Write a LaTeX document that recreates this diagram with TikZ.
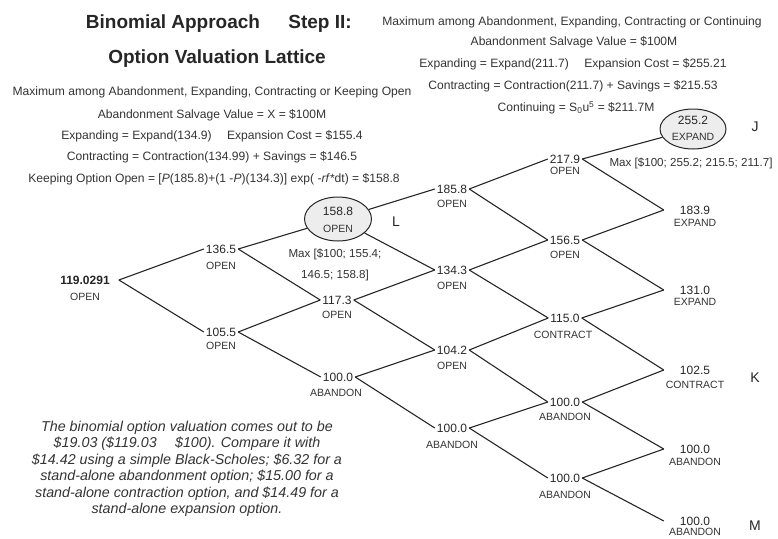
\documentclass[tikz,border=0pt]{standalone}
\usepackage{fontspec}
\setmainfont{Liberation Sans}
\usetikzlibrary{shapes.geometric}
\newcommand{\fsz}[2]{\fontsize{#1}{#2}\selectfont}

\begin{document}
\begin{tikzpicture}[x=1pt,y=-1pt,
  title/.style={font=\fsz{19}{22}\bfseries, text=black!85, inner sep=0pt},
  info/.style={font=\fsz{12.1}{14}, text=black!80, inner sep=0pt},
  note/.style={font=\fsz{14.3}{16.5}\itshape, text=black!80, inner sep=0pt, align=center},
  val/.style={font=\fsz{12}{14}, text=black!85, inner xsep=2pt, inner ysep=1pt},
  leaf/.style={val, inner xsep=16pt},
  state/.style={font=\fsz{10.5}{12}, text=black!80, inner sep=0pt},
  hub/.style={ellipse, draw=black!85, line width=1pt, fill=black!7,
    minimum width=67pt, minimum height=44pt, inner sep=0pt},
  tag/.style={font=\fsz{14}{16}, text=black!85, inner sep=0pt},
  maxrule/.style={font=\fsz{11.6}{14}, text=black!80, inner sep=0pt},
  edge/.style={draw=black!85, line width=1.1pt}]

\useasboundingbox (0,0) rectangle (778,538);

% headings
\node[title] (h1) at (173,24) {Binomial Approach};
\node[title] (h2) at (320,24) {Step II:};
\node[title] (h3) at (217,59) {Option Valuation Lattice};

% rule at node L
\node[info] (li1) at (212,92) {Maximum among Abandonment, Expanding, Contracting or Keeping Open};
\node[info] (li2) at (212,115) {Abandonment Salvage Value = X = \$100M};
\node[info] (li3) at (212,136) {Expanding = Expand(134.9) \quad Expansion Cost = \$155.4};
\node[info] (li4) at (212,157) {Contracting = Contraction(134.99) + Savings = \$146.5};
\node[info] (li5) at (214,179) {Keeping Option Open = [\textit{P}(185.8)+(1 -\textit{P})(134.3)] exp( -\textit{rf}*dt) = \$158.8};

% rule at node J
\node[info] (ri1) at (572,22) {Maximum among Abandonment, Expanding, Contracting or Continuing};
\node[info] (ri2) at (574,42) {Abandonment Salvage Value = \$100M};
\node[info] (ri3) at (573,64) {Expanding = Expand(211.7) \quad Expansion Cost = \$255.21};
\node[info] (ri4) at (573,86) {Contracting = Contraction(211.7) + Savings = \$215.53};
\node[info] (ri5) at (576,108) {Continuing = S\textsubscript{0}u\textsuperscript{5} = \$211.7M};

% column 0
\node[val, inner xsep=9pt, font=\fsz{12}{14}\bfseries] (n0) at (85,280) {119.0291};
\node[state] (n0s) at (85,297) {OPEN};

% column 1
\node[val] (a1) at (221,249) {136.5};
\node[state] (a1s) at (221,266) {OPEN};
\node[val] (b1) at (221,332) {105.5};
\node[state] (b1s) at (221,346) {OPEN};

% column 2
\node[hub] (L) at (338,219) {};
\node[val] (Lv) at (338,211) {158.8};
\node[state] (Ls) at (338,229) {OPEN};
\node[val] (b2) at (337,300) {117.3};
\node[state] (b2s) at (337,315) {OPEN};
\node[val] (c2) at (338,377) {100.0};
\node[state] (c2s) at (336,393) {ABANDON};

% column 3
\node[val] (a3) at (452,189) {185.8};
\node[state] (a3s) at (452,204) {OPEN};
\node[val] (b3) at (452,270) {134.3};
\node[state] (b3s) at (452,286) {OPEN};
\node[val] (c3) at (452,350) {104.2};
\node[state] (c3s) at (452,366) {OPEN};
\node[val] (d3) at (452,428) {100.0};
\node[state] (d3s) at (452,445) {ABANDON};

% column 4
\node[val] (a4) at (565,159) {217.9};
\node[state] (a4s) at (565,171) {OPEN};
\node[val] (b4) at (565,240) {156.5};
\node[state] (b4s) at (565,255) {OPEN};
\node[val] (c4) at (565,318) {115.0};
\node[state] (c4s) at (563,335) {CONTRACT};
\node[val] (d4) at (565,402) {100.0};
\node[state] (d4s) at (565,417) {ABANDON};
\node[val] (e4) at (565,478) {100.0};
\node[state] (e4s) at (565,495) {ABANDON};

% column 5
\node[hub, minimum width=66pt, minimum height=40pt] (J) at (693,129) {};
\node[val] (Jv) at (693,120) {255.2};
\node[state] (Js) at (693,137) {EXPAND};
\node[leaf] (b5) at (695,210) {183.9};
\node[state] (b5s) at (695,223) {EXPAND};
\node[leaf] (c5) at (695,290) {131.0};
\node[state] (c5s) at (695,302) {EXPAND};
\node[leaf] (d5) at (695,370) {102.5};
\node[state] (d5s) at (695,385) {CONTRACT};
\node[leaf] (e5) at (695,449) {100.0};
\node[state] (e5s) at (695,462) {ABANDON};
\node[leaf] (f5) at (695,521) {100.0};
\node[state] (f5s) at (695,532) {ABANDON};

% node letters
\node[tag] (tL) at (396,222) {L};
\node[tag] (tJ) at (755,127) {J};
\node[tag] (tK) at (755,378) {K};
\node[tag] (tM) at (755,526) {M};

% decision at L and J
\node[maxrule] (mL1) at (335,254) {Max [\$100; 155.4;};
\node[maxrule] (mL2) at (335,275) {146.5; 158.8]};
\node[maxrule] (mJ) at (691,163) {Max [\$100; 255.2; 215.5; 211.7]};

% lattice branches
\draw[edge] (n0.east) -- (a1.west);
\draw[edge] (n0.east) -- (b1.west);
\draw[edge] (a1.east) -- (L);
\draw[edge] (a1.east) -- (b2.west);
\draw[edge] (b1.east) -- (b2.west);
\draw[edge] (b1.east) -- (c2.west);
\draw[edge] (L) -- (a3.west);
\draw[edge] (L) -- (b3.west);
\draw[edge] (b2.east) -- (b3.west);
\draw[edge] (b2.east) -- (c3.west);
\draw[edge] (c2.east) -- (c3.west);
\draw[edge] (c2.east) -- (d3.west);
\draw[edge] (a3.east) -- (a4.west);
\draw[edge] (a3.east) -- (b4.west);
\draw[edge] (b3.east) -- (b4.west);
\draw[edge] (b3.east) -- (c4.west);
\draw[edge] (c3.east) -- (c4.west);
\draw[edge] (c3.east) -- (d4.west);
\draw[edge] (d3.east) -- (d4.west);
\draw[edge] (d3.east) -- (e4.west);
\draw[edge] (a4.east) -- (J);
\draw[edge] (a4.east) -- (b5.west);
\draw[edge] (b4.east) -- (b5.west);
\draw[edge] (b4.east) -- (c5.west);
\draw[edge] (c4.east) -- (c5.west);
\draw[edge] (c4.east) -- (d5.west);
\draw[edge] (d4.east) -- (d5.west);
\draw[edge] (d4.east) -- (e5.west);
\draw[edge] (e4.east) -- (e5.west);
\draw[edge] (e4.east) -- (f5.west);

% summary
\node[note] (sum) at (187,469) {The binomial option valuation comes out to be\\
\$19.03 (\$119.03 \quad \$100). Compare it with\\
\$14.42 using a simple Black-Scholes; \$6.32 for a\\
stand-alone abandonment option; \$15.00 for a\\
stand-alone contraction option, and \$14.49 for a\\
stand-alone expansion option.};
\end{tikzpicture}
\end{document}
